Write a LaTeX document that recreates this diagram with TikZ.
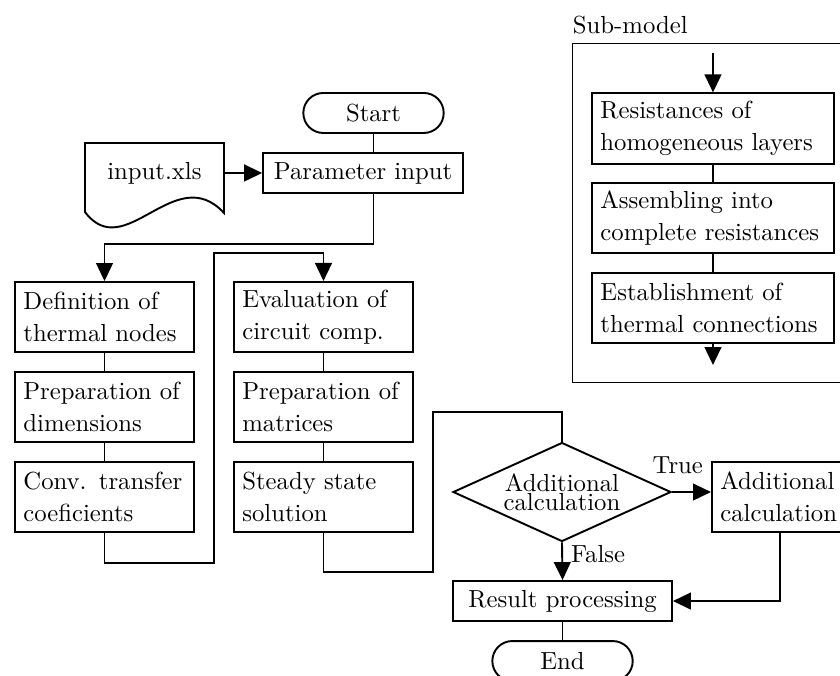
\documentclass[tikz,border=0pt]{standalone}
\usetikzlibrary{arrows.meta,shapes.geometric}

\begin{document}
\begin{tikzpicture}[
    thick,
    >={Triangle[length=7.5pt,width=7pt]},
    font = \fontsize{10.3}{12.4}\selectfont,
    box/.style = {
      draw,
      rectangle,
      align = left,
      text width = 67.6pt,
      inner xsep = 3.5pt,
      minimum height = 29.17pt,
      font = \fontsize{10.3}{13.3}\selectfont
    },
    subbox/.style = {
      box,
      text width = 93.8pt
    },
    line/.style = {
      draw,
      rectangle,
      minimum height = 16.67pt
    },
    terminal/.style = {
      draw,
      rectangle,
      rounded corners = 8.3pt,
      minimum width = 58.5pt,
      minimum height = 16.67pt
    },
    decision/.style = {
      draw,
      diamond,
      aspect = 2.2,
      inner sep = 0pt,
      minimum width = 3.194cm,
      minimum height = 1.45cm,
      align = center,
      font = \fontsize{10.3}{8}\selectfont
    }
  ]
  \clip (0,0) rectangle (12.306,-9.889);

  % main flow
  \node[terminal] (start) at (5.472,-1.655) {Start};
  \node[line, minimum width=83.3pt] (param) at (5.318,-2.534) {Parameter input};
  \node[inner sep=0pt, minimum width=2.036cm] (doc) at (2.263,-2.534) {input.xls};
  \draw (1.245,-3.106) -- (1.245,-2.095) -- (3.282,-2.095) -- (3.282,-3.120)
    .. controls (2.564,-2.344) and (1.831,-3.882) .. (1.245,-3.106) -- cycle;

  \node[box] (def) at (1.531,-4.644) {Definition of\\thermal nodes};
  \node[box] (prep) at (1.531,-5.963) {Preparation of\\dimensions};
  \node[box] (conv) at (1.531,-7.281) {Conv. transfer\\coeficients};

  \node[box] (eval) at (4.739,-4.644) {Evaluation of\\circuit comp.};
  \node[box] (matr) at (4.739,-5.963) {Preparation of\\matrices};
  \node[box] (steady) at (4.739,-7.281) {Steady state\\solution};

  \node[decision] (dec) at (8.233,-7.208) {Additional\\calculation};
  \node[box, text width=50pt, anchor=west] (add) at (10.416,-7.281) {Additional\\calculation};
  \node[line, minimum width=91.25pt] (result) at (8.241,-8.805) {Result processing};
  \node[terminal] (end) at (8.241,-9.684) {End};

  \coordinate (j1) at (3.135,-3.706);
  \coordinate (j2) at (6.343,-6.036);

  \draw (start.south) -- (start.south |- param.north);
  \draw[->] (doc.east) -- (param.west);
  \draw[->] (start.south |- param.south) -- ++(0,-0.733) -| (def.north);
  \draw (def) -- (prep);
  \draw (prep) -- (conv);
  \draw[->] (conv.south) -- ++(0,-0.44) -| (j1) -| (eval.north);
  \draw (eval) -- (matr);
  \draw (matr) -- (steady);
  \draw (steady.south) -- ++(0,-0.571) -| (j2) -| (dec.north);
  \draw[->] (dec.east) -- (dec.east -| add.west)
    node[pos=0.15, above=4pt] {True};
  \draw[->] (dec.south) -- (result.north)
    node[pos=0.3, right] {False};
  \draw[->] (add.south) |- (result.east);
  \draw (result) -- (end);

  % sub-model
  \draw[thin] (8.380,-0.630) rectangle (12.511,-5.596);
  \node[anchor=south west, inner xsep=0pt] (sublabel) at (8.380,-0.630) {Sub-model};
  \node[subbox] (s1) at (10.445,-1.883) {Resistances of\\homogeneous layers};
  \node[subbox] (s2) at (10.445,-3.194) {Assembling into\\complete resistances};
  \node[subbox] (s3) at (10.445,-4.512) {Establishment of\\thermal connections};
  \coordinate (subin) at (10.445,-0.776);
  \coordinate (subout) at (10.445,-5.347);

  \draw[->] (subin) -- (s1.north);
  \draw (s1) -- (s2);
  \draw (s2) -- (s3);
  \draw[->] (s3.south) -- (subout);

\end{tikzpicture}
\end{document}
